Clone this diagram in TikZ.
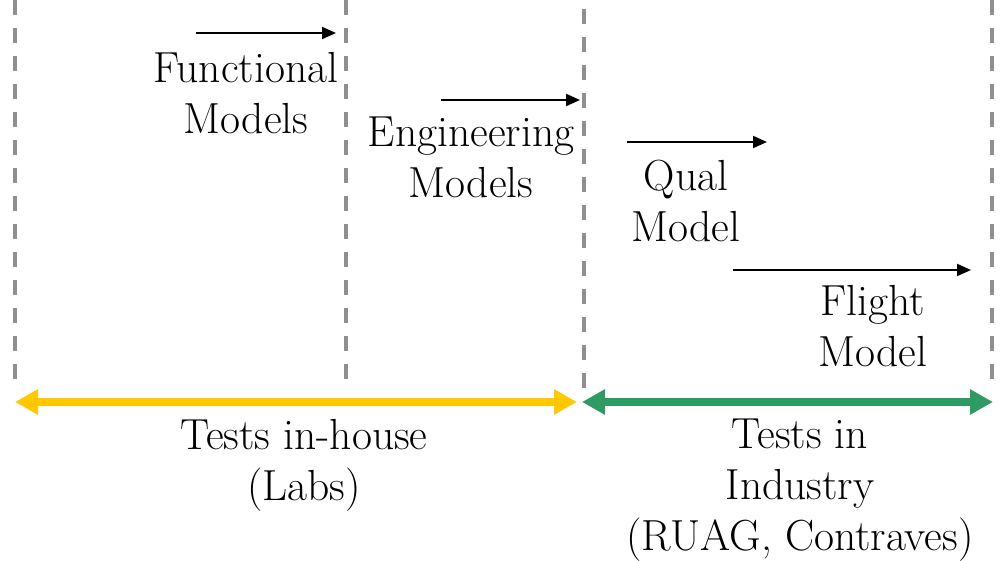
\documentclass[tikz,border=0pt]{standalone}
\usepackage{fontspec}
\usetikzlibrary{arrows.meta}
\definecolor{dashgray}{HTML}{8F8F8F}
\definecolor{goldy}{HTML}{FFC800}
\definecolor{greeny}{HTML}{2F9A63}
\begin{document}
\begin{tikzpicture}[x=1pt,y=-1pt,
  divider/.style={draw=dashgray,line width=4pt,dash pattern=on 15pt off 13pt},
  stagearrow/.style={draw=black,line width=2pt,-{Triangle[length=14pt,width=12pt]}},
  rangearrow/.style={line width=8pt,{Triangle[length=23pt,width=24pt]}-{Triangle[length=23pt,width=24pt]}},
  lbl/.style={font=\fontsize{43.5}{51}\selectfont,align=center,inner sep=0pt,anchor=north}]
\useasboundingbox (0,0) rectangle (1007,561);
% dividers
\coordinate (d1t) at (15,0);   \coordinate (d1b) at (15,379);
\coordinate (d2t) at (346,0);  \coordinate (d2b) at (346,379);
\coordinate (d3t) at (584,-19); \coordinate (d3b) at (584,390);
\coordinate (d4t) at (992,0);  \coordinate (d4b) at (992,390);
\draw[divider] (d1t) -- (d1b);
\draw[divider] (d2t) -- (d2b);
\draw[divider] (d3t) -- (d3b);
\draw[divider] (d4t) -- (d4b);
% stage arrows
\coordinate (a1s) at (196,33);  \coordinate (a1e) at (336,33);
\coordinate (a2s) at (441,100); \coordinate (a2e) at (580,100);
\coordinate (a3s) at (627,142); \coordinate (a3e) at (767,142);
\coordinate (a4s) at (733,270); \coordinate (a4e) at (971,270);
\draw[stagearrow] (a1s) -- (a1e);
\draw[stagearrow] (a2s) -- (a2e);
\draw[stagearrow] (a3s) -- (a3e);
\draw[stagearrow] (a4s) -- (a4e);
% range arrows
\coordinate (y1) at (15,402);  \coordinate (y2) at (577,402);
\coordinate (g1) at (582,402); \coordinate (g2) at (993,402);
\draw[rangearrow,draw=goldy,fill=goldy] (y1) -- (y2);
\draw[rangearrow,draw=greeny,fill=greeny] (g1) -- (g2);
% labels
\node[lbl] (fm) at (246,52) {Functional\\Models};
\node[lbl] (em) at (471,117) {Engineering\\Models};
\node[lbl] (qm) at (686,160) {Qual\\Model};
\node[lbl] (flm) at (873,285) {Flight\\Model};
\node[lbl] (tih) at (304,419) {Tests in-house\\(Labs)};
\node[lbl] (tii) at (800,419) {Tests in\\Industry\\(RUAG, Contraves)};
\end{tikzpicture}
\end{document}
